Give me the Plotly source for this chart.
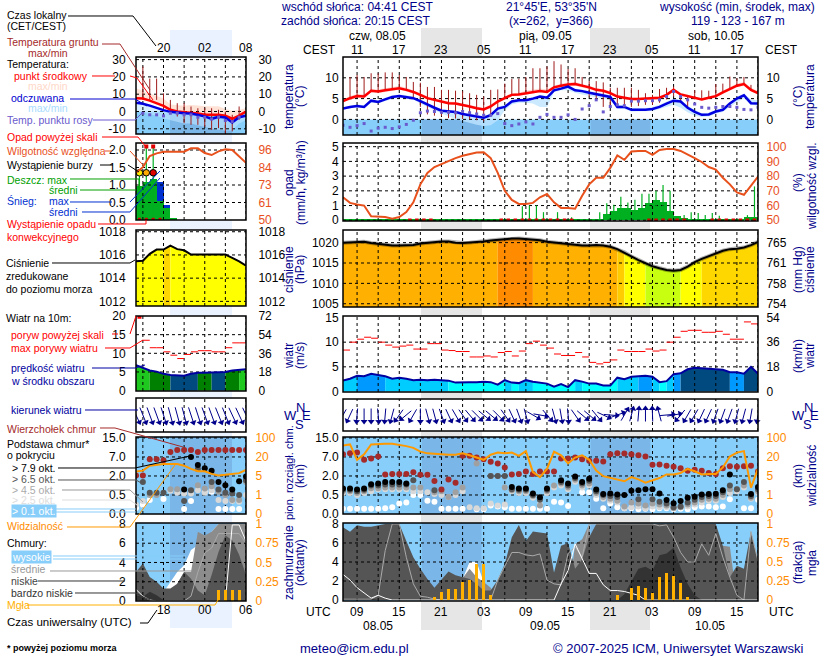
import numpy as np
import plotly.graph_objects as go

N = None
FONT = "Liberation Sans"
NAVY = "#00008b"

t_mid = [4.4,5.1,5.6,5.5,6.9,6.7,7.0,7.3,7.5,7.1,6.6,5.9,5.1,4.7,4.3,3.9,3.8,3.5,3.1,2.7,2.4,3.1,4.3,5.1,5.9,6.0,6.3,6.6,6.8,6.6,7.7,8.1,8.4,8.5,8.1,7.7,7.1,6.9,6.3,5.5,5.2,4.9,4.9,5.0,5.2,5.2,5.9,7.1,6.0,5.6,5.1,4.8,5.2,5.6,6.5,7.4,8.1,8.5,7.1,6.3]
t_hi = [4.8,5.6,6.1,6.0,7.3,7.2,7.5,7.8,8.0,7.6,7.0,6.3,5.5,5.1,4.7,4.3,4.2,3.9,3.5,3.1,2.8,3.5,4.7,5.5,6.3,6.4,6.9,7.2,7.4,7.2,8.1,8.6,8.9,9.0,8.5,8.1,7.5,7.3,6.7,5.9,5.5,5.2,5.2,5.3,5.5,5.5,6.3,7.5,6.4,6.0,5.4,5.1,5.5,6.0,6.9,7.8,8.6,9.0,7.6,6.8]
t_lo = [4.1,4.7,5.2,5.1,6.5,6.3,6.6,6.9,7.1,6.7,6.2,5.5,4.8,4.4,4.0,3.6,3.5,3.2,2.8,2.4,2.1,2.8,4.0,4.8,5.6,5.7,6.0,6.3,6.5,6.3,7.3,7.7,8.0,8.1,7.7,7.3,6.8,6.6,6.0,5.2,4.9,4.6,4.6,4.7,4.9,4.9,5.6,6.7,5.7,5.3,4.8,4.5,4.9,5.3,6.1,7.0,7.7,8.1,6.7,5.9]
t_felt = [2.6,3.0,3.2,3.0,4.5,4.2,4.8,5.4,5.6,5.4,5.1,4.4,3.5,2.8,2.1,1.9,1.8,1.3,1.0,0.7,0.4,1.0,2.6,3.0,4.3,4.6,4.6,5.0,5.5,5.2,7.0,7.4,7.9,7.0,6.8,6.4,6.1,5.7,5.4,3.0,3.0,2.3,2.3,2.3,2.5,3.0,3.8,4.5,4.3,2.8,1.8,1.1,1.2,1.9,2.3,3.8,5.0,5.8,3.9,3.8]
felt_lo = [2.4,2.7,2.9,2.7,4.0,3.9,4.4,4.9,5.2,5.0,4.7,3.8,2.9,2.2,1.4,0.7,0.1,-0.4,-0.9,-1.3,-1.6,-1.4,-0.2,2.2,3.6,4.0,4.0,3.8,3.0,3.0,6.5,7.0,7.0,6.4,6.0,5.6,5.3,5.0,4.6,2.6,2.5,1.9,1.9,1.9,2.0,2.5,3.0,3.5,2.8,1.7,0.9,0.6,0.7,1.4,1.8,3.0,4.2,5.0,3.5,3.3]
felt_hi = [2.9,3.3,3.6,3.4,4.8,4.6,5.2,5.8,6.0,5.8,5.5,4.8,3.9,3.2,2.5,2.2,2.1,1.6,1.3,1.0,0.8,1.4,3.0,3.5,4.6,5.0,5.0,5.4,5.9,5.6,7.4,7.9,8.3,7.4,7.2,6.8,6.5,6.1,5.8,3.5,3.4,2.7,2.7,2.7,3.0,3.5,4.3,5.0,4.8,3.3,2.3,1.5,1.6,2.3,2.8,4.2,5.4,6.2,4.8,4.6]
dew = [-1.4,-1.9,-1.5,-1.0,-2.8,-2.1,-1.9,-2.2,-1.8,-1.2,-0.2,1.6,2.0,1.9,1.7,1.7,1.6,1.9,1.6,1.3,1.0,1.0,1.4,-1.0,-1.5,-1.1,-0.6,-1.1,0.5,1.2,0.5,0.5,1.1,0.0,2.5,3.3,4.7,1.8,3.1,3.5,3.3,4.4,4.4,4.5,4.5,4.7,5.5,6.7,5.5,4.7,3.7,2.9,2.7,2.9,3.1,3.1,2.9,2.4,2.3,2.9]
ground_max = [5.0,10.2,10.7,10.2,11.1,11.1,11.3,11.3,10.7,10.2,9.0,8.8,7.8,7.8,7.1,7.1,6.9,6.8,6.3,5.9,5.5,7.1,7.2,8.6,9.7,9.8,10.2,12.3,12.3,12.7,14.0,13.2,12.1,12.3,10.2,9.2,9.2,8.9,7.6,7.6,7.6,7.6,7.1,6.3,5.9,7.3,7.6,7.9,5.6,5.5,7.0,7.0,6.9,8.5,8.6,10.3,9.9,10.2,8.3,6.9]
ground_min = [4.4,5.1,5.6,5.5,6.9,6.7,7.0,7.3,7.5,7.1,5.0,3.0,1.2,0.9,0.8,0.3,0.2,0.1,0.0,-0.2,-0.4,1.0,2.6,5.1,5.9,6.0,6.3,6.6,6.8,6.6,7.7,8.1,8.4,8.5,8.1,5.5,4.5,3.0,3.0,2.8,3.0,3.0,3.2,3.5,3.5,4.0,4.8,5.5,4.0,3.0,4.8,4.8,5.2,5.6,6.5,7.4,8.1,8.5,7.1,6.3]

rh = [65.6,61.8,60.7,60,52.7,52.7,52.2,51.1,52.2,55.6,62.2,74.4,82.2,86.2,88.2,90.4,92.2,93.8,94.9,96,96.2,92.2,82.2,70,63.8,61.1,61.1,61.8,65.6,67.8,62.2,58.4,58.4,57.8,66.7,74.4,78.9,78.9,85.6,94,91.1,96.7,97.1,97.1,94.4,97.8,98.4,98.4,97.1,94.9,92.2,89.6,86.2,84.4,78.9,74.4,68.9,67.3,73.3,79.6]
rain_mean = [.02]*25 + [.03,.06,.07,.06,.05,.05,.04,.03,.02,.02,.02,.1,.45,.65,.8,.85,.7,.8,1.15,1.35,1.25,.65,.3,.17,.05,.07,.07,.07,.07,.07,.05,.05,.22,.22,.2][:34]
rain_max = [N]*25 + [.95,1.0,1.0,.55,N,.55,N,.2,N,N,N,.55,1.15,1.05,1.6,1.2,1.4,1.8,1.8,2.0,2.4,2.0,.2,.35,.55,.5,.35,.5,.3,N,N,N,.35,2.3,2.0][:34]
conv_hours = [9.5,10.5,11.5,12.5,22.5,23.5,24.5,25.5,26.5,27.5,28.5,29.5,30.5,31.5,32.5,43.5,44.5,45.5,46.5,47.5,48.5,52.5,53.5,54.5,55.5,56.5,57.5,58.5]

pressure = [1020,1020.1,1020.2,1020.2,1019.9,1019.7,1019.4,1019.3,1019.3,1019.3,1019.4,1019.8,1020,1020.2,1020.3,1020.3,1020,1019.9,1020,1020.1,1020.3,1020.5,1020.7,1020.8,1021,1021,1020.9,1020.8,1020.6,1020.2,1020,1019.8,1019.6,1019.4,1019.3,1019.3,1019.4,1019.3,1019,1018.4,1017.6,1016.6,1015.7,1014.9,1014.2,1013.7,1013.3,1013.1,1013.3,1014.1,1015.2,1016,1016.7,1017.3,1018,1018.4,1018.5,1018.8,1019.4,1020.2]
press_bins = [(0,22,"#ffb000"),(22,27,"#ff8c00"),(27,39,"#ffb000"),(39,40,"#ffcc00"),(40,43,"#ffff00"),(43,48,"#c8ff10"),(48,51,"#ffff00"),(51,59,"#ffd700")]

wind = [2.2,2.6,3.2,3.1,3.6,3.4,3.1,2.6,2.8,2.6,2.3,2.4,2.3,2.4,2.3,2.2,1.8,1.9,1.9,1.9,2.0,1.9,1.4,2.3,1.8,1.7,2.3,2.0,1.8,1.6,1.0,1.5,0.9,2.3,2.0,1.6,1.6,1.2,1.2,2.8,2.5,3.0,3.1,3.2,3.0,1.9,2.1,3.5,3.7,4.5,4.8,4.7,4.6,4.6,4.4,3.9,3.9,3.6,5.0,3.6]
wind_bins = [(0,2,"#00ccff"),(2,6,"#0099ff"),(6,15,"#00ccff"),(15,23,"#00ffff"),(23,24,"#00ccff"),(24,25,"#00ffff"),(25,27,"#00ccff"),(27,33,"#00ffff"),(33,34,"#00ccff"),(34,39,"#00ffff"),(39,42,"#00ccff"),(42,44,"#0099ff"),(44,45,"#00ccff"),(45,46,"#00ffff"),(46,47,"#00ccff"),(47,48,"#0099ff"),(48,55,"#004a80"),(55,57,"#0099ff"),(57,59,"#004a80")]
gust = [8.4,10.0,10.6,11,10.8,10,9.4,9,9.2,9.4,8.6,8.6,9.7,9.7,8.4,8.3,8.1,8.1,7,7,7.2,7,7.9,8.1,7.2,8.2,9.7,10.2,9.4,8.8,7.6,7.3,7.3,7.9,7,5.9,5.6,5.9,6.4,8.4,8.1,8.1,8.1,8.6,8.2,8.4,10,11,12.2,12.4,12.4,12,12,12.2,11.6,10.6,10.6,14.1,13.7]
wind_dir = [30,25,5,0,0,-5,5,15,35,50,30,0,-15,-15,-20,-25,-30,-35,-40,-45,-50,-50,-45,-35,-25,-20,-15,-60,-80,-40,-15,-10,-5,-35,-50,-50,-40,-65,-85,-110,-150,195,185,180,178,165,-95,-100,40,30,30,25,25,20,20,20,15,15,10,10]

cl_top = [3.14,3.19,3.23,2.85,2.92,3.02,2.08,2.11,2.11,2.11,2.2,2.06,2.06,1.73,1.29,1.82,1.65,3.06,3.06,2.97,2.88,2.75,2.66,2.45,2.08,2.11,2.23,2.11,2.23,2.23,2.23,2.92,2.92,2.97,2.88,2.8,2.8,2.76,3.14,3.19,3.18,3.14,3.09,3.02,2.59,2.61,2.54,2.49,2.4,2.28,2.33,2.28,2.16,2.11,2.4,2.51,2.49,2.51,2.54,2.23]
cl_black = [1.34,1.34,1.29,1.34,1.56,1.6,1.68,1.68,1.68,1.6,N,N,N,N,N,N,N,N,N,N,N,N,N,N,1.42,1.34,1.34,1.08,.88,1.34,N,1.77,1.6,1.97,1.68,1.85,1.29,1.05,1.08,1.03,1.0,1.22,1.25,1.3,1.3,1.08,.74,.57,.69,.86,.91,1.03,1.05,1.06,1.25,2.08,N,N,1.05,1.42]
cl_dark = [1.28,1.28,1.2,1.28,1.5,1.5,1.55,1.55,1.55,1.55,1.78,N,N,1.25,N,N,N,N,N,N,N,2.0,2.0,2.0,1.3,1.28,1.28,1.0,.75,1.28,N,1.68,1.5,1.9,1.6,1.75,1.2,1.0,.95,.9,N,N,.77,N,.77,.65,.55,.35,.4,.6,.75,.9,.95,.95,1.15,1.5,1.3,1.68,.95,1.3]
cl_gray = [1.2,1.2,1.1,1.2,1.35,1.35,1.4,1.4,1.4,1.4,1.4,1.4,N,1.15,1.2,.9,1.15,1.4,N,2.65,N,2.0,2.0,1.4,1.25,1.2,1.2,.95,.45,1.2,1.5,1.6,1.4,1.8,1.5,1.6,1.1,.9,.8,.7,.4,.6,.55,.45,.55,.5,.45,.3,.35,.5,.6,.75,.8,.8,1.0,1.3,1.3,1.5,.85,1.2]
cl_light = [1.1,1.1,1.0,1.1,1.2,1.3,1.3,1.3,1.3,1.3,1.2,1.2,1.15,1.05,1.0,.9,1.0,1.2,.35,.3,.3,.55,.45,.5,1.2,1.1,1.1,.85,.5,1.1,1.4,1.5,1.3,1.7,1.4,1.5,1.0,.8,.7,.6,.3,.35,.4,.3,.4,.35,.35,.3,.35,.4,.5,.6,.7,.7,.9,1.1,1.2,1.4,.8,1.1]
cl_white = [.27,.27,.27,.27,.27,.27,.3,.35,.55,.6,1.0,1.0,.7,.65,.27,.27,.27,.27,N,.25,.25,.45,.4,.35,.27,.27,.27,.27,.27,.27,.65,.6,.42,N,1.15,1.15,.8,.3,.55,.35,.3,.3,.25,.27,.25,.3,.3,.25,.27,.25,.35,.4,.4,.35,.4,.77,N,.3,.3,.75]
visibility = [3.6,3.66,2.85,3.14,3.66,3.69,3.69,3.69,3.64,3.57,3.48,3.28,3.19,3.16,3.12,3.12,3.12,3.19,3.09,2.97,2.85,3.12,3.23,3.19,3.23,3.06,3.31,2.2,1.94,2.37,3.28,3.09,2.66,2.97,3.09,2.85,2.28,1.99,1.91,1.82,1.72,1.94,1.82,1.65,1.77,1.89,2.08,2.08,2.16,2.37,2.25,2.08,2.11,2.11,2.45,3.02,3.23,3.31,1.39,2.37]

cov_high = [0]*17 + [2.2,4,4,1.9,1.0] + [0]*38
cov_mid = [0]*17 + [2.3,3.3,2.4,1.9,1.3] + [0]*11 + [5.9,6.4,8] + [0]*18 + [5.7,5.6] + [0]*4
cov_low = [7.66,7.17,7.86,7.7,7.7,7.86,8,8,8,6.2,4.5,3.3,2.2,1.3,2.2,3,2.6,2.4,2.2,1.7,1,1,2.1,3.8,6.6,7.9,6.2,7.2,7.1,7,2.9,5.7,6,3.3,4.3,6.6,8,8,8,8,8,8,8,8,8,8,8,8,8,8,8,8,8,8,5.7,2.4,3.6,3.3,7.2,4.1]
cov_vlow = [.15,.15,.15,.15,.15,0,0,0,0,0,0,0,0,0,0,0,0,0,0,0,0,0,0,0,0,.05,.05,.05,0,0,0,0,0,0,0,0,0,0,0,0,.6,1.9,3.3,3.5,3.1,4.7,4.9,5.5,3.4,1.7,.5,0,0,0,0,0,0,0,0,0]
line_white = [2.7,2.1,1.3,.7,.2,.5,.2,0,0,0,0,0,0,0,0,0,0,0,0,0,0,0,0,0,0,0,0,0,0,0,0,1.7,3.1,5.9,4.3,2.8,2.8,1.6,1.0,1.0,.9,.7,.5,0,0,0,0,0,0,0,0,0,0,0,0,0,0,0,0,0]
line_gray = [.1,.1,.1,.1,.1,.5,5.2,8,8,4.5,1.7,.4,.3,.1,0,0,0,0,0,0,0,0,2.1,3.6,5,5,4.75,4.65,4.85,2.1,1.7,1.6,4.9,5.6,4.5,8,8,8,8,8,8,8,8,8,8,7.8,7.9,6.6,5,4,4,5.9,4.7,7,4.5,2.4,.5,0,7.2,4.1]
fog_hours = [13,14,15,16,17,18,19,20,21,39,41,42,43,44,45,46,47,48,49]
fog_frac = [.04,.11,.15,.15,.24,.26,.47,.47,.065,.065,.16,.19,.16,.09,.3,.36,.32,.22,.04]

l_t = [7.7,7.5,6.3,4.8,3.3,1.0,0,-.4,-.6,-1.2,-1.9,-1.8,-1.9,-2.5,-4.2,-2.4,0]
l_t_hi = [13.5,12,10.5,9,7.5,4,3.8,3.3,3.8,3.5,3,3,3,1.5,0.5,0.8,2]
l_felt = [5,4.5,3.4,2,.8,-.2,-.8,-1.0,-1.2,-2,-2.8,-4.3,-3,-3.5,-6.3,-3.3,-2.5]
l_felt_lo = [.5,-.5,-1.5,-2.5,-4,-5,-6,-7,-7,-8,-9,-10,-10.5,-11,-11,-7,-5]
l_dew = [N,-1,-1.9,-1.9,-2.5,-1,-1,-1.9,-1.9,-3.3,-3.3,-4.4,-3.3,-5.2,-5.8,-3.3,N]
l_gr_max = [N,26,19,19,10.5,6.7,4.8,4.8,2.9,1.9,1.9,1.9,1,0,-1.9,2.9,N]
l_gr_min = [N,6.7,6.7,6.7,0,-1,-2.9,-6.7,-7.7,-7.7,-8.7,-10.6,-9.6,-12.5,-11.5,-4.8,N]
l_rh = [81,84.7,92,93.8,94.9,94.9,94.9,94.9,97.1,97.1,94,92.7,95.1,96.5,96,92,87.6]
l_rain = [.96,1.1,1.18,.53,.34,.07]
l_snow = [0,0,0,1.1,.43,0]
l_rain_max = [1.3,2.1,2.1]
l_storm_colors = ["#ffee00","#ffaa00","#e00000"]
l_conv = [.5,1.5,2.5,3.5]
l_press = [1015.45,1015.5,1016.1,1016.46,1016.46,1016.8,1016.5,1016.4,1016.03,1016.03,1016.03,1016.03,1016.03,1016.03,1015.74,1015.45,1015.08]
l_press_bins = [(0,4,"#ffff00"),(4,5,"#ffd700"),(5,16,"#ffff00")]
l_wind = [6.8,6,5.4,5.1,4.5,4.2,4,4,4.5,4.8,4.8,4.8,4.8,5,5.4,5.6,5.7]
l_wind_bins = [(0,2,"#1fc81f"),(2,5,"#008000"),(5,9,"#004a80"),(9,11,"#008000"),(11,13,"#004a80"),(13,15,"#008000"),(15,16,"#1fc81f")]
l_gust = [N,13.5,11.5,11.5,10.4,9.5,8.6,9.7,10.4,10.7,10.7,10.4,10.4,11.5,12.8,12.8]
l_dir = [-25,-22,-20,-20,-18,-15,-15,-15,-18,-18,-20,-20,-22,-22,-25,-25,-25]
l_top = [2.03,2.03,2.88,2.88,2.83,3.26,3.36,3.36,3.36,3.26,3.36,3.36,3.36,3.36,3.36,3.36,3.36]
l_black = [N,N,N,N,N,N,N,1.29,3.0,2.58,2.4,2.28,1.68,1.51,1.29,1.72,1.97]
l_dark = [N,1.68,1.12,1.12,1.12,N,N,.69,1.25,2.37,N,1.68,1.29,1.12,1.08,1.0,1.77]
l_gray = [N,N,1.0,1.0,N,1.3,1.3,N,N,1.51,1.34,1.46,1.17,1.0,.74,.74,1.68]
l_light = [.48,.69,N,N,N,1.22,1.12,1.08,1.08,1.25,1.12,1.25,.74,.69,.69,.65,1.0]
l_white = [.31,.48,.74,N,.79,N,N,.26,.69,N,1.17,1.17,.26,.26,.26,.26,N]
l_vis = [2.23,2.28,2.54,2.59,2.63,2.63,2.63,2.54,2.37,2.25,2.25,2.11,2.03,2.06,2.11,2.15,2.32]
l_cov_high = [0,0,0,0,.9,2,3,3.7,5.3,5.8,5.8,7.2,8,8,8,8,8]
l_cov_mid = [0,0,0,0,0,0,1.8,3,3,7.2,6.8,7.2,8,8,8,8,8]
l_cov_low = [3,3.9,2.5,2,1.3,1.3,1.8,3,2.3,1.1,.6,2.7,5.1,6.8,6.3,4.8,2.7]
l_cov_vlow = [.6,.45,.95,.6,.1,0,0,0,0,0,0,0,0,0,0,0,0]
l_line_white = [1.2,.5,.1,0,0,0,0,0,0,0,0,0,0,0,7.9,7.9,6.2]
l_line_gray = [0,0,0,0,0,0,0,0,.5,3,5,5.5,7,7,7,7,6]
l_fog_h = [12,13,14,15]
l_fog = [.14,.14,.14,.14]

main_local = {2:"11",8:"17",14:"23",20:"05",26:"11",32:"17",38:"23",44:"05",50:"11",56:"17"}
main_utc = {2:"09",8:"15",14:"21",20:"03",26:"09",32:"15",38:"21",44:"03",50:"09",56:"15"}
left_local = {4:"20",10:"02",16:"08"}
left_utc = {4:"18",10:"00",16:"06"}
lev_km = ["0.0","0.5","2.0","7.0","15.0"]
lev_vis = ["0","1","5","20","100"]

W, H = 820, 660
MX = (343, 758); LX = (136, 246)
MAIN_Y = dict(temp=(57,135), rain=(143,221), press=(230,307), wind=(316,392), dir=(399,431), base=(437,514), cov=(523,601))
LEFT_Y = dict(temp=(57,134), rain=(143,220), press=(230,306), wind=(316,391), dir=(398,432), base=(437,514), cov=(523,601))

fig = go.Figure()
shapes, annots, layout = [], [], {}
def px(x): return x / W
def py(y): return 1 - y / H

def T(x, y, s, color="black", anchor="left", size=12, angle=0, bg=None):
    annots.append(dict(x=px(x), y=py(y), xref="paper", yref="paper", text=s, showarrow=False,
                       xanchor=anchor, yanchor="middle", textangle=angle, bgcolor=bg, borderpad=0,
                       font=dict(family=FONT, size=size, color=color)))

def leader(pts, color="black", width=1):
    d = "M" + " L".join(f"{px(a):.5f},{py(b):.5f}" for a, b in pts)
    shapes.append(dict(type="path", path=d, xref="paper", yref="paper", line=dict(color=color, width=width), layer="above"))

counter = [0]
def panel(xr, xpx, ypx, yr, lv=(), lt=(), lc="black", rr=None, rv=(), rt=(), rc="black", off=(0, 0)):
    counter[0] += 1
    n = counter[0]
    xid, yl, yr2 = f"x{n}", f"y{2*n-1}", f"y{2*n}"
    layout[f"xaxis{n}"] = dict(domain=[px(xpx[0]), px(xpx[1])], range=list(xr), anchor=yl, showgrid=False, zeroline=False,
                               showticklabels=False, ticks="")
    layout[f"yaxis{2*n-1}"] = dict(domain=[py(ypx[1]), py(ypx[0])], range=list(yr), anchor=xid, showgrid=False, zeroline=False,
                                   tickmode="array", tickvals=list(lv), ticktext=list(lt), ticks="outside", ticklen=off[0] or 1,
                                   tickcolor="rgba(0,0,0,0)", tickfont=dict(family=FONT, size=12, color=lc))
    rng = list(rr or yr)
    layout[f"yaxis{2*n}"] = dict(domain=[py(ypx[1]), py(ypx[0])], range=rng, anchor=xid, overlaying=yl, side="right",
                                 showgrid=False, zeroline=False, tickmode="array", tickvals=list(rv), ticktext=list(rt),
                                 ticks="outside", ticklen=off[1] or 1, tickcolor="rgba(0,0,0,0)",
                                 tickfont=dict(family=FONT, size=12, color=rc))
    # a right axis is only drawn when a trace refers to it
    fig.add_trace(go.Scatter(x=[xr[0]], y=[rng[0]], mode="markers", marker=dict(size=1, opacity=0), xaxis=xid, yaxis=yr2, hoverinfo="skip"))
    return xid, yl, yr2

def rect(ax, x0, x1, y0, y1, color):
    shapes.append(dict(type="rect", xref=ax[0], yref=ax[1], x0=x0, x1=x1, y0=y0, y1=y1, fillcolor=color, line_width=0, layer="below"))

def line(ax, x, y, color, width=2, right=False, dash=None):
    fig.add_trace(go.Scatter(x=list(x), y=list(y), mode="lines", xaxis=ax[0], yaxis=ax[2] if right else ax[1],
                             line=dict(color=color, width=width, dash=dash), connectgaps=False, hoverinfo="skip"))

def dots(ax, x, y, color, size=6, symbol="circle"):
    fig.add_trace(go.Scatter(x=list(x), y=list(y), mode="markers", xaxis=ax[0], yaxis=ax[1],
                             marker=dict(color=color, size=size, symbol=symbol, line_width=0), hoverinfo="skip"))

def band(ax, lo, hi, color):
    x = np.arange(len(lo))
    fig.add_trace(go.Scatter(x=np.r_[x, x[::-1]], y=list(lo) + list(hi)[::-1], mode="lines", fill="toself", fillcolor=color,
                             line_width=0, xaxis=ax[0], yaxis=ax[1], hoverinfo="skip"))

def area(ax, x, y, color):
    fig.add_trace(go.Scatter(x=list(x), y=list(y), mode="lines", fill="tozeroy", fillcolor=color, line=dict(width=0, color=color),
                             xaxis=ax[0], yaxis=ax[1], hoverinfo="skip"))

def binned(ax, v, bins):
    for a, b, c in bins:
        area(ax, np.arange(a, b + 1), v[a:b + 1], c)

def grid(ax, xr, yr, xs, ys):
    X, Y = [], []
    for x in xs:
        X += [x, x, None]; Y += [yr[0], yr[1], None]
    for y in ys:
        X += [xr[0], xr[1], None]; Y += [y, y, None]
    fig.add_trace(go.Scatter(x=X, y=Y, mode="lines", xaxis=ax[0], yaxis=ax[1], line=dict(color="black", width=1, dash="3px,3px"), hoverinfo="skip"))

def segs(ax, start, vals, color, width=1, half=0.5):
    X, Y = [], []
    for i, v in enumerate(vals):
        if v is None: continue
        X += [start[i] - half, start[i] + half, None]; Y += [v, v, None]
    line(ax, X, Y, color, width)

def vlines(ax, x, lo, hi, color, width=1):
    X, Y = [], []
    for a, l, h in zip(x, lo, hi):
        if h is None or l is None: continue
        X += [a, a, None]; Y += [l, h, None]
    line(ax, X, Y, color, width)

def arrows(ax, dirs, L, ppx, color=NAVY, size=6):
    d = np.radians(np.array(dirs, float))
    h = np.arange(len(dirs))
    X, Y = [], []
    tx, ty = h + L * np.sin(d) / ppx, L * np.cos(d)
    hx, hy = h - L * np.sin(d) / ppx, -L * np.cos(d)
    for a, b, c, e in zip(tx, ty, hx, hy):
        X += [a, c, None]; Y += [b, e, None]
    fig.add_trace(go.Scatter(x=X, y=Y, mode="lines", xaxis=ax[0], yaxis=ax[1], cliponaxis=False, line=dict(color=color, width=1), hoverinfo="skip"))
    fig.add_trace(go.Scatter(x=hx, y=hy, mode="markers", xaxis=ax[0], yaxis=ax[1], cliponaxis=False,
                             marker=dict(symbol="triangle-up", size=size, color=color, angle=np.array(dirs) + 180, line_width=0), hoverinfo="skip"))

for a, b in [(421, 482), (590, 650)]:
    shapes.append(dict(type="rect", xref="paper", yref="paper", x0=px(a), x1=px(b), y0=py(630), y1=py(28), fillcolor="#e6e6e6", line_width=0, layer="below"))
shapes.append(dict(type="rect", xref="paper", yref="paper", x0=px(170), x1=px(232), y0=py(628), y1=py(30), fillcolor="#eaf2ff", line_width=0, layer="below"))

M_X = (0, 59); L_X = (0, 16)
M_NIGHT = [(11.2, 19.7), (35.2, 43.7)]; L_NIGHT = [(4.95, 13.96)]
M_GX = list(range(2, 60, 3)); L_GX = [1, 4, 7, 10, 13, 16]
SKY, SKY_N = "#87cefa", "#7ab7e8"

def white_bg(ax, xr, yr):
    rect(ax, xr[0], xr[1], yr[0], yr[1], "white")

def sky(ax, xr, y0, y1, nights):
    rect(ax, xr[0], xr[1], y0, y1, SKY)
    for a, b in nights:
        rect(ax, a, b, y0, y1, SKY_N)

def frame(xpx, ypx):
    shapes.append(dict(type="rect", xref="paper", yref="paper", x0=px(xpx[0]), x1=px(xpx[1]), y0=py(ypx[1]), y1=py(ypx[0]),
                       line=dict(color="black", width=1.5), fillcolor="rgba(0,0,0,0)", layer="above"))

yr = (-3.75, 15)
ax = panel(M_X, MX, MAIN_Y["temp"], yr, [0, 5, 10], ["0", "5", "10"], rv=[0, 5, 10], rt=["0", "5", "10"], off=(1, 5))
white_bg(ax, M_X, yr); sky(ax, M_X, yr[0], 0, M_NIGHT)
band(ax, t_lo, t_hi, "#ffd6d0")
band(ax, felt_lo, felt_hi, "rgba(190,228,255,0.8)")
grid(ax, M_X, yr, M_GX, [0, 5, 10])
vlines(ax, range(60), ground_min, ground_max, "#a01c1c", 1)
line(ax, range(60), t_mid, "#ff0000", 2.5)
line(ax, range(60), t_felt, "#0000e0", 2.5)
dots(ax, range(60), dew, "#6a5acd", 3, "square")

yr = (-0.05, 5.25); rr = (49.5, 102.5)
ax = panel(M_X, MX, MAIN_Y["rain"], yr, range(6), [str(i) for i in range(6)], rr=rr, rv=range(50, 101, 10), rt=[str(i) for i in range(50, 101, 10)], rc="#e8501c", off=(1, 5))
white_bg(ax, M_X, yr)
fig.add_trace(go.Bar(x=np.arange(len(rain_mean)) + .5, y=rain_mean, width=1, marker=dict(color="#00b020", line_width=0), xaxis=ax[0], yaxis=ax[1], hoverinfo="skip"))
grid(ax, M_X, yr, M_GX, [0, 1, 2, 3, 4, 5])
vlines(ax, np.arange(len(rain_max)) + .5, [0] * len(rain_max), rain_max, "#00b020", 1.2)
dots(ax, conv_hours, [0] * len(conv_hours), "#d40000", 3.5, "square")
line(ax, range(60), rh, "#e8501c", 2, right=True)

yr = (1004.2, 1023.1)
ax = panel(M_X, MX, MAIN_Y["press"], yr, [1005, 1010, 1015, 1020], ["1005", "1010", "1015", "1020"], rv=[1005, 1010, 1015, 1020], rt=["754", "758", "761", "765"], off=(1, 5))
white_bg(ax, M_X, yr)
binned(ax, pressure, press_bins)
grid(ax, M_X, yr, M_GX, [1005, 1010, 1015, 1020])
line(ax, range(60), pressure, "rgba(0,0,0,0.3)", 4)
line(ax, range(60), pressure, "black", 2)

yr = (-0.1, 15.3)
ax = panel(M_X, MX, MAIN_Y["wind"], yr, [0, 5, 10, 15], ["0", "5", "10", "15"], rv=[0, 5, 10, 15], rt=["0", "18", "36", "54"], off=(1, 5))
white_bg(ax, M_X, yr)
binned(ax, wind, wind_bins)
grid(ax, M_X, yr, M_GX, [5, 10])
line(ax, range(60), wind, "#0000a0", 2)
segs(ax, np.arange(len(gust)) + .5, gust, "#ff0000", 1)

yr = (-16, 16)
ax = panel(M_X, MX, MAIN_Y["dir"], yr)
white_bg(ax, M_X, yr)
grid(ax, M_X, yr, M_GX, [])
arrows(ax, wind_dir, 6.5, 7.03)

yr = (0, 4.05)
ax = panel(M_X, MX, MAIN_Y["base"], yr, range(5), lev_km, rv=range(5), rt=lev_vis, rc="#ff8c00", off=(1, 5))
sky(ax, M_X, yr[0], yr[1], M_NIGHT)
grid(ax, M_X, yr, M_GX, [1, 2, 3, 4])
for arr, col in [(cl_white, "white"), (cl_light, "#d8d8d8"), (cl_gray, "#a0a0a0"), (cl_dark, "#555555"), (cl_black, "black"), (cl_top, "#a52a2a")]:
    dots(ax, range(60), arr, col, 6)
line(ax, range(60), visibility, "#ff9900", 2)

yr = (-0.1, 8.1); rr = (-0.0125, 1.0125)
ax = panel(M_X, MX, MAIN_Y["cov"], yr, [0, 2, 4, 6, 8], ["0", "2", "4", "6", "8"], rr=rr, rv=[0, .25, .5, .75, 1], rt=["0", "0.25", "0.5", "0.75", "1"], rc="#ff8c00", off=(1, 5))
sky(ax, M_X, yr[0], yr[1], M_NIGHT)
for arr, col in [(cov_high, "white"), (cov_mid, "#8c8c8c"), (cov_low, "#555555"), (cov_vlow, "#333333")]:
    area(ax, range(60), arr, col)
grid(ax, M_X, yr, M_GX, [2, 4, 6])
line(ax, range(60), line_gray, "#aaaaaa", 1)
line(ax, range(60), line_white, "white", 1)
fig.add_trace(go.Bar(x=fog_hours, y=fog_frac, width=.45, marker=dict(color="#ffb000", line_width=0), xaxis=ax[0], yaxis=ax[2], hoverinfo="skip"))
for k in MAIN_Y:
    frame(MX, MAIN_Y[k])

yr = (-13, 31.5)
ax = panel(L_X, LX, LEFT_Y["temp"], yr, [-10, 0, 10, 20, 30], ["-10", "0", "10", "20", "30"], rv=[-10, 0, 10, 20, 30], rt=["-10", "0", "10", "20", "30"], off=(7, 9))
white_bg(ax, L_X, yr); sky(ax, L_X, yr[0], 0, L_NIGHT)
band(ax, l_t, l_t_hi, "#ffe2d6")
band(ax, l_felt_lo, l_felt, "rgba(190,228,255,0.6)")
grid(ax, L_X, yr, L_GX, [-10, 0, 10, 20, 30])
vlines(ax, range(17), l_gr_min, l_gr_max, "#a01c1c", 1)
line(ax, range(17), l_t, "#ff0000", 2.5)
line(ax, range(17), l_felt, "#0000e0", 2.5)
dots(ax, range(17), l_dew, "#6a5acd", 3, "square")

yr = (0, 2.2); rr = (50, 100.6)
ax = panel(L_X, LX, LEFT_Y["rain"], yr, [0, .5, 1, 1.5, 2], ["0.0", "0.5", "1.0", "1.5", "2.0"], rr=rr, rv=[50, 61.5, 73, 84.5, 96], rt=["50", "61", "73", "84", "96"], rc="#e8501c", off=(7, 9))
white_bg(ax, L_X, yr)
fig.add_trace(go.Bar(x=np.arange(len(l_snow)) + .5, y=l_snow, width=1, marker=dict(color="#0030d0", line_width=0), xaxis=ax[0], yaxis=ax[1], hoverinfo="skip"))
fig.add_trace(go.Bar(x=np.arange(len(l_rain)) + .5, y=l_rain, width=1, marker=dict(color="#00b020", line_width=0), xaxis=ax[0], yaxis=ax[1], hoverinfo="skip"))
grid(ax, L_X, yr, L_GX, [.5, 1, 1.5, 2])
vlines(ax, np.arange(len(l_rain_max)) + .5, [0] * 3, l_rain_max, "#00b020", 1.2)
dots(ax, [1.5, 2.5], [2.1, 2.1], "#e00000", 4, "square")
for i, c in enumerate(l_storm_colors):
    fig.add_trace(go.Scatter(x=[i + .5], y=[1.35], mode="markers", xaxis=ax[0], yaxis=ax[1], marker=dict(color=c, size=6.5, line=dict(color="black", width=1)), hoverinfo="skip"))
dots(ax, l_conv, [0.02] * 4, "#d40000", 3, "square")
line(ax, range(17), l_rh, "#e8501c", 2, right=True)

yr = (1011.6, 1018.15)
ax = panel(L_X, LX, LEFT_Y["press"], yr, [1012, 1014, 1016, 1018], ["1012", "1014", "1016", "1018"], rv=[1012, 1014, 1016, 1018], rt=["1012", "1014", "1016", "1018"], off=(7, 9))
white_bg(ax, L_X, yr)
binned(ax, l_press, l_press_bins)
grid(ax, L_X, yr, L_GX, [1012, 1014, 1016, 1018])
line(ax, range(17), l_press, "black", 2)

yr = (-0.1, 20)
ax = panel(L_X, LX, LEFT_Y["wind"], yr, [0, 5, 10, 15, 20], ["0", "5", "10", "15", "20"], rv=[0, 5, 10, 15, 20], rt=["0", "18", "36", "54", "72"], off=(7, 9))
white_bg(ax, L_X, yr)
binned(ax, l_wind, l_wind_bins)
grid(ax, L_X, yr, L_GX, [5, 10, 15])
line(ax, range(17), l_wind, "#0000a0", 2)
segs(ax, np.arange(len(l_gust)) + .5, l_gust, "#ff0000", 1)
dots(ax, [0.5], [19.8], "#ff0000", 4, "square")

yr = (-17, 17)
ax = panel(L_X, LX, LEFT_Y["dir"], yr)
white_bg(ax, L_X, yr)
grid(ax, L_X, yr, L_GX, [])
arrows(ax, l_dir, 8, 6.875)

yr = (0, 4.05)
ax = panel(L_X, LX, LEFT_Y["base"], yr, range(5), lev_km, rv=range(5), rt=lev_vis, rc="#ff8c00", off=(7, 6))
sky(ax, L_X, yr[0], yr[1], L_NIGHT)
grid(ax, L_X, yr, L_GX, [1, 2, 3, 4])
for arr, col in [(l_white, "white"), (l_light, "#d8d8d8"), (l_gray, "#a0a0a0"), (l_dark, "#555555"), (l_black, "black"), (l_top, "#a52a2a")]:
    dots(ax, range(17), arr, col, 6)
line(ax, range(17), l_vis, "#ff9900", 2)

yr = (0, 8.1); rr = (0, 1.0125)
ax = panel(L_X, LX, LEFT_Y["cov"], yr, [0, 2, 4, 6, 8], ["0", "2", "4", "6", "8"], rr=rr, rv=[0, .25, .5, .75, 1], rt=["0", "0.25", "0.5", "0.75", "1"], rc="#ff8c00", off=(7, 6))
sky(ax, L_X, yr[0], yr[1], L_NIGHT)
for arr, col in [(l_cov_high, "white"), (l_cov_mid, "#8c8c8c"), (l_cov_low, "#555555"), (l_cov_vlow, "#333333")]:
    area(ax, range(17), arr, col)
grid(ax, L_X, yr, L_GX, [2, 4, 6])
line(ax, range(17), l_line_gray, "#aaaaaa", 1)
line(ax, range(17), l_line_white, "white", 1)
fig.add_trace(go.Bar(x=l_fog_h, y=l_fog, width=.45, marker=dict(color="#ffb000", line_width=0), xaxis=ax[0], yaxis=ax[2], hoverinfo="skip"))
for k in LEFT_Y:
    frame(LX, LEFT_Y[k])

mx = lambda h: MX[0] + h * (MX[1] - MX[0]) / 59
lx = lambda h: LX[0] + h * (LX[1] - LX[0]) / 16
for h, s in main_local.items(): T(mx(h), 50, s, anchor="center")
for h, s in main_utc.items(): T(mx(h), 612, s, anchor="center")
for h, s in left_local.items(): T(lx(h), 48, s, anchor="center")
for h, s in left_utc.items(): T(lx(h), 610, s, anchor="center")
T(319, 50, "CEST", anchor="center"); T(781, 50, "CEST", anchor="center")
T(318, 612, "UTC", anchor="center"); T(781, 612, "UTC", anchor="center")
for x, s in [(377, "czw, 08.05"), (545, "pią, 09.05"), (716, "sob, 10.05")]: T(x, 36, s, anchor="center")
for x, s in [(378, "08.05"), (545, "09.05"), (710, "10.05")]: T(x, 626, s, anchor="center")
T(280, 7, "wschód słońca: 04:41 CEST", NAVY); T(280, 21, "zachód słońca: 20:15 CEST", NAVY)
T(551, 7, "21°45'E, 53°35'N", NAVY, "center"); T(551, 21, "(x=262,  y=366)", NAVY, "center")
T(816, 7, "wysokość (min, środek, max)", NAVY, "right"); T(738, 21, "119 - 123 - 167 m", NAVY, "center")
T(354, 648, "meteo@icm.edu.pl", NAVY, "center", 13); T(805, 648, "© 2007-2025 ICM, Uniwersytet Warszawski", NAVY, "right", 13)

for x, y, s, z in [(289, 97, "temperatura", 12), (300, 97, "(°C)", 12), (289, 183, "opad", 12), (301, 183, "(mm/h, kg/m³/h)", 12), (289, 270, "ciśnienie", 12), (300, 270, "(hPa)", 12),
                (289, 356, "wiatr", 12), (300, 356, "(m/s)", 12), (289, 473, "pion. rozciągł. chm.", 11), (300, 476, "(km)", 12), (289, 563, "zachmurzenie", 12), (300, 563, "(oktanty)", 12),
                (798, 97, "(°C)", 12), (810, 97, "temperatura", 12), (798, 183, "(%)", 12), (812, 186, "wilgotność wzgl.", 12), (798, 270, "(mm Hg)", 12), (810, 270, "ciśnienie", 12),
                (798, 356, "(km/h)", 12), (810, 356, "wiatr", 12), (798, 476, "(km)", 12), (812, 476, "widzialność", 12), (798, 563, "(frakcja)", 12), (812, 563, "mgła", 12)]:
    T(x, y, s, NAVY, "center", z, -90)
for x0 in (0, 508):
    T(300 + x0, 407, "N", NAVY, "center", 13); T(290 + x0, 415, "W", NAVY, "center", 13)
    T(306 + x0, 415, "E", NAVY, "center", 13); T(299 + x0, 424, "S", NAVY, "center", 13)

BR, RED, OR = "#a52a2a", "#ff0000", "#e8501c"
LS = 10.5
for x, y, s, c in [
    (6, 15, "Czas lokalny", "black"), (6, 26, "(CET/CEST)", "black"),
    (6, 42, "Temperatura gruntu", BR), (27, 53, "max/min", BR), (6, 64, "Temperatura:", "black"),
    (13, 76, "punkt środkowy", RED), (27, 86, "max/min", "#ffd8c8"), (10, 98, "odczuwana", "#0000d0"), (27, 108, "max/min", "#a8dcff"),
    (6, 120, "Temp. punktu rosy", "#6a5acd"), (6, 137, "Opad powyżej skali", RED), (6, 151, "Wilgotność względna", OR), (6, 165, "Wystąpienie burzy", "black"),
    (6, 180, "Deszcz: max", "#00a000"), (48, 190, "średni", "#00a000"), (6, 201, "Śnieg:", "#0030d0"), (48, 201, "max", "#0030d0"), (48, 212, "średni", "#0030d0"),
    (6, 224, "Wystąpienie opadu", RED), (6, 237, "konwekcyjnego", RED), (5, 263, "Ciśnienie", "black"), (5, 276, "zredukowane", "black"), (5, 289, "do poziomu morza", "black"),
    (5, 318, "Wiatr na 10m:", "black"), (10, 335, "poryw powyżej skali", RED), (10, 348, "max porywy wiatru", RED), (10, 368, "prędkość wiatru", "#0000a0"), (10, 381, "w środku obszaru", "#0000a0"),
    (10, 410, "kierunek wiatru", "#0000a0"), (6, 429, "Wierzchołek chmur", BR), (6, 444, "Podstawa chmur*", "black"), (6, 455, "o pokryciu", "black"),
    (11, 468, "> 7.9 okt.", "black"), (11, 479, "> 6.5 okt.", "#555555"), (11, 490, "> 4.5 okt.", "#aaaaaa"), (11, 500, "> 2.5 okt.", "#dddddd"),
    (6, 526, "Widzialność", "#ff8c00"), (6, 543, "Chmury:", "black"), (10, 569, "średnie", "#999999"), (10, 581, "niskie", "#444444"), (10, 593, "bardzo niskie", "#333333"),
    (6, 605, "Mgła", "#ffb000")]:
    T(x, y, s, c, size=LS)
T(6, 622, "Czas uniwersalny (UTC)", "black", size=11.5)
T(11, 511, "> 0.1 okt.", "white", bg=SKY, size=LS); T(11, 557, "wysokie", "white", bg=SKY, size=LS)
T(6, 648, "<b>* powyżej poziomu morza</b>", "black", size=9)

for pts, c in [
    ([(68,16),(133,16),(156,46)], "black"), ([(102,44),(120,44),(150,90)], BR), ([(92,76),(115,76)], RED), ([(130,76),(137,78),(153,100)], RED),
    ([(70,99),(135,99),(147,106)], "#0000d0"), ([(93,120),(135,120),(142,113)], "#6a5acd"), ([(102,137),(138,137),(146,147)], RED),
    ([(105,151),(112,151)], OR), ([(130,151),(143,165)], OR), ([(100,165),(113,165)], "black"), ([(128,165),(139,172)], "black"),
    ([(70,179),(139,179),(139,190)], "#00a000"), ([(80,190),(136,190)], "#00a000"), ([(70,202),(112,202)], "#0030d0"), ([(130,202),(160,171)], "#0030d0"),
    ([(82,212),(130,212),(160,178)], "#0030d0"), ([(98,224),(146,224),(146,220)], RED), ([(52,263),(130,263),(135,260)], "black"),
    ([(112,334),(118,334)], RED), ([(130,334),(136,316)], RED), ([(105,348),(130,348),(143,340)], RED), ([(92,368),(135,368),(145,365)], "#0000a0"), ([(85,410),(138,410)], "#0000a0"),
    ([(100,428),(115,428),(183,447)], BR), ([(58,468),(135,468),(190,456)], "black"), ([(58,480),(136,480),(143,484)], "#555555"), ([(62,490),(130,490),(143,502)], "#999999"),
    ([(62,500),(130,500),(137,505)], "#dddddd"), ([(55,509),(136,509)], SKY), ([(55,512),(136,512)], SKY), ([(67,527),(130,527),(175,465)], "#ff9900"),
    ([(53,556),(186,556)], SKY), ([(53,559),(186,559)], SKY), ([(50,571),(192,571)], "#999999"), ([(38,581),(125,581)], "#333333"), ([(75,593),(135,593),(150,600)], "#333333"),
    ([(27,605),(215,605),(218,600)], "#ffb000"), ([(140,623),(148,623),(157,610)], "black")]:
    leader(pts, c, 1)

layout.update(width=W, height=H, margin=dict(l=0, r=0, t=0, b=0, autoexpand=False), paper_bgcolor="white", plot_bgcolor="white", showlegend=False,
              barmode="overlay", bargap=0, shapes=shapes, annotations=annots, font=dict(family=FONT, size=12))
fig.update_layout(**layout)
fig.write_html("out.html", post_script="document.body.style.margin='0';", config=dict(displayModeBar=False))
